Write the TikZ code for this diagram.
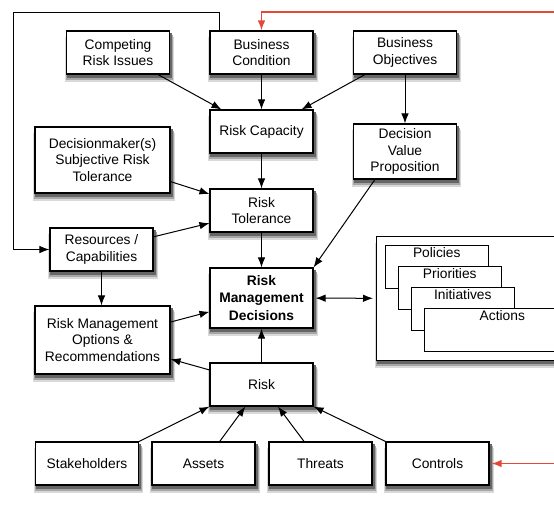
\documentclass[tikz,border=0pt]{standalone}
\usepackage{fontspec}
\setmainfont{Liberation Sans}
\usetikzlibrary{arrows.meta, positioning, backgrounds}
\definecolor{fbred}{RGB}{229,72,56}
\tikzset{
  box/.style={draw, line width=1.1pt, fill=white, minimum width=103pt, minimum height=43pt,
    align=center, inner sep=2pt, font=\fontsize{13.8}{16.5}\selectfont},
  widebox/.style={box, minimum width=135pt},
  card/.style={draw, line width=0.6pt, fill=white, minimum width=103pt, minimum height=43pt, anchor=north west},
  cardtext/.style={anchor=north, inner sep=2pt, font=\fontsize{13.8}{16.5}\selectfont},
  arr/.style={-{Latex[length=10pt,width=7.5pt]}},
  arr2/.style={{Latex[length=10pt,width=7.5pt]}-{Latex[length=10pt,width=7.5pt]}}
}
\begin{document}
\begin{tikzpicture}[x=1pt, y=1pt, line width=1pt]
    \useasboundingbox (0,0) rectangle (554,-515);
    % --- Inputs (top row) ---
    \node[box] (comp)  at (118,-52.5)   {Competing\\Risk Issues};
    \node[box] (bcond) at (261.5,-52.5) {Business\\Condition};
    \node[box] (bobj)  at (405,-52.5)   {Business\\Objectives};

    % --- Capacity / tolerance ---
    \node[box] (rcap) at (261.5,-131.5) {Risk Capacity};
    \node[box, minimum height=55pt] (dvp) at (405,-151.5) {Decision\\Value\\Proposition};
    \node[widebox, minimum height=66pt] (dmtol) at (102.5,-160) {Decisionmaker(s)\\Subjective Risk\\Tolerance};
    \node[box] (rtol) at (261.5,-210.5) {Risk\\Tolerance};
    \node[box] (resc) at (101.5,-249.5) {Resources /\\Capabilities};

    % --- Decisions ---
    \node[box, minimum height=60pt, font=\fontsize{13.8}{17.3}\selectfont\bfseries] (rmd) at (261.5,-298) {Risk\\Management\\Decisions};
    \node[widebox, minimum height=68pt] (rmo) at (102.5,-340) {Risk Management\\Options \&\\Recommendations};
    \node[box] (risk) at (261.5,-384.5) {Risk};

    % Stack of outcomes
    \node[box, minimum width=200pt, minimum height=124pt, anchor=north west] (stack) at (376,-236) {};
    \node[card] (pol) at (385,-245) {};
    \node[cardtext] at (pol.north) {Policies};
    \node[card] (pri) at (398,-266) {};
    \node[cardtext] at (pri.north) {Priorities};
    \node[card] (ini) at (411,-287) {};
    \node[cardtext] at (ini.north) {Initiatives};
    \node[card, minimum width=156pt] (act) at (424,-308) {};
    \node[cardtext] at (act.north) {Actions};

    % --- Risk factors (bottom row) ---
    \node[box] (stake)   at (87,-463.5)    {Stakeholders};
    \node[box] (assets)  at (203.5,-463.5) {Assets};
    \node[box] (threats) at (320.5,-463.5) {Threats};
    \node[box] (ctrls)   at (437.5,-463.5) {Controls};

    % Shadows behind the boxes
    \begin{scope}[on background layer]
        \foreach \n in {comp,bcond,bobj,rcap,dvp,dmtol,rtol,resc,rmd,rmo,risk,stack,stake,assets,threats,ctrls} {
            \fill[black!15] ([xshift=-1pt,yshift=-7pt]\n.north west) rectangle ([xshift=4pt,yshift=-7pt]\n.south east);
            \fill[black!35] ([xshift=0pt,yshift=-5pt]\n.north west) rectangle ([xshift=3pt,yshift=-5pt]\n.south east);
            \fill[black!60] ([xshift=1pt,yshift=-3pt]\n.north west) rectangle ([xshift=2pt,yshift=-3pt]\n.south east);
        }
    \end{scope}

    % Arrows
    \draw[arr] (comp) -- (rcap);
    \draw[arr] (bcond) -- (rcap);
    \draw[arr] (bobj) -- (rcap);
    \draw[arr] (bobj) -- (dvp);
    \draw[arr] (rcap) -- (rtol);
    \draw[arr] (dmtol) -- (rtol);
    \draw[arr] (resc) -- (rtol);
    \draw[arr] (rtol) -- (rmd);
    \draw[arr] (dvp.-137) -- (rmd.north east);
    \draw[arr] (resc) -- (resc |- rmo.north);
    \draw[arr] (rmo) -- (rmd);
    \draw[arr] (risk) -- (rmd);
    \draw[arr] (risk) -- (rmo);
    \draw[arr2, shorten <=2pt, shorten >=3pt] (rmd) -- (stack);
    \draw[arr] (stake.north east) -- (risk.south west);
    \draw[arr] (assets) -- (risk);
    \draw[arr] (threats) -- (risk);
    \draw[arr] (ctrls.north west) -- (risk.south east);

    % Feedback loops
    \coordinate (loopturn) at (13,-12);
    \draw[arr] ([xshift=10pt]bcond.north west) |- (loopturn) |- (resc.west);
    \coordinate (fbtop) at (556,-12);
    \coordinate (fbctl) at (556,-463.5);
    \draw[arr, fbred, line width=1.3pt] (fbtop) -| (bcond.north);
    \draw[arr, fbred, line width=1.3pt, shorten >=2pt] (fbctl) -- (ctrls.east);
\end{tikzpicture}
\end{document}
